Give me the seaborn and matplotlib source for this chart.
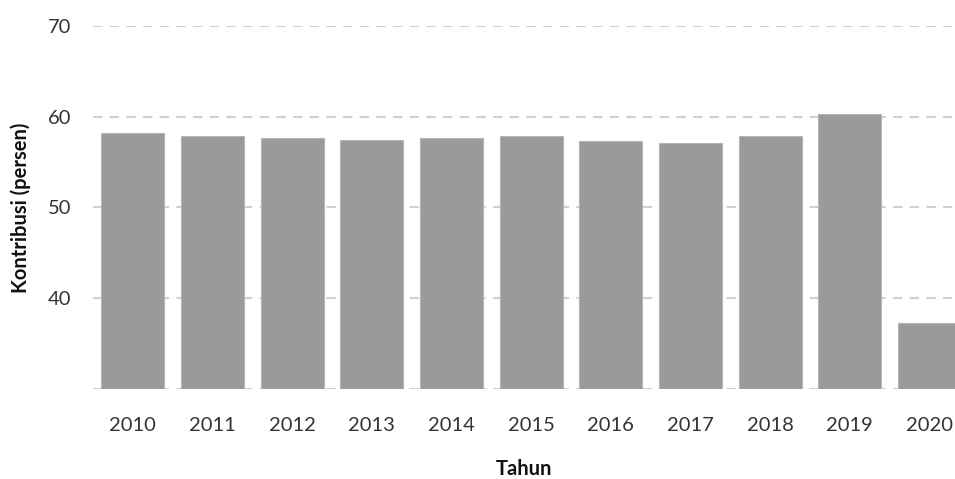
import pandas as pd
import seaborn as sns
import matplotlib.pyplot as plt

# Data
years = ['2010', '2011', '2012', '2013', '2014', '2015',
         '2016', '2017', '2018', '2019', '2020']
kontribusi = [58.25, 57.87, 57.68, 57.48, 57.66, 57.84,
              57.3, 57.11, 57.84, 60.33, 37.3]
y_ticks = [30, 40, 50, 60, 70]
y_tick_labels = ['', '40', '50', '60', '70']

df = pd.DataFrame({'Tahun': years, 'Kontribusi': kontribusi})

sns.set_style('white')
plt.rcParams['font.family'] = ['Lato', 'DejaVu Sans']

fig = plt.figure(figsize=(9.55, 4.79), dpi=100)
ax = fig.add_axes([93 / 955, 1 - 389 / 479, 1 - 93 / 955, (389 - 26) / 479])

sns.barplot(data=df, x='Tahun', y='Kontribusi', color='#9a9a9a',
            saturation=1, width=0.79, edgecolor='#b5b5b5', linewidth=0.8,
            ax=ax, zorder=3)

ax.set_ylim(30, 70)
ax.set_xlim(-0.5, 10.32)
ax.set_yticks(y_ticks)
ax.set_yticklabels(y_tick_labels)
ax.yaxis.grid(True, linestyle=(0, (4.5, 3.5)), color='#d0d0d0', linewidth=1.5, zorder=0)
ax.xaxis.grid(False)
ax.set_axisbelow(True)
for s in ax.spines.values():
    s.set_visible(False)

ax.tick_params(axis='both', length=0, labelsize=14.5, colors='#333333')
ax.tick_params(axis='x', pad=20)
ax.tick_params(axis='y', pad=15.5)
ax.set_xlabel('Tahun', fontsize=14.5, fontweight='bold', color='#111111', labelpad=18.5)
ax.set_ylabel('Kontribusi (persen)', fontsize=14.5, fontweight='bold', color='#111111', labelpad=12)

fig.savefig('out.png', dpi=100)
